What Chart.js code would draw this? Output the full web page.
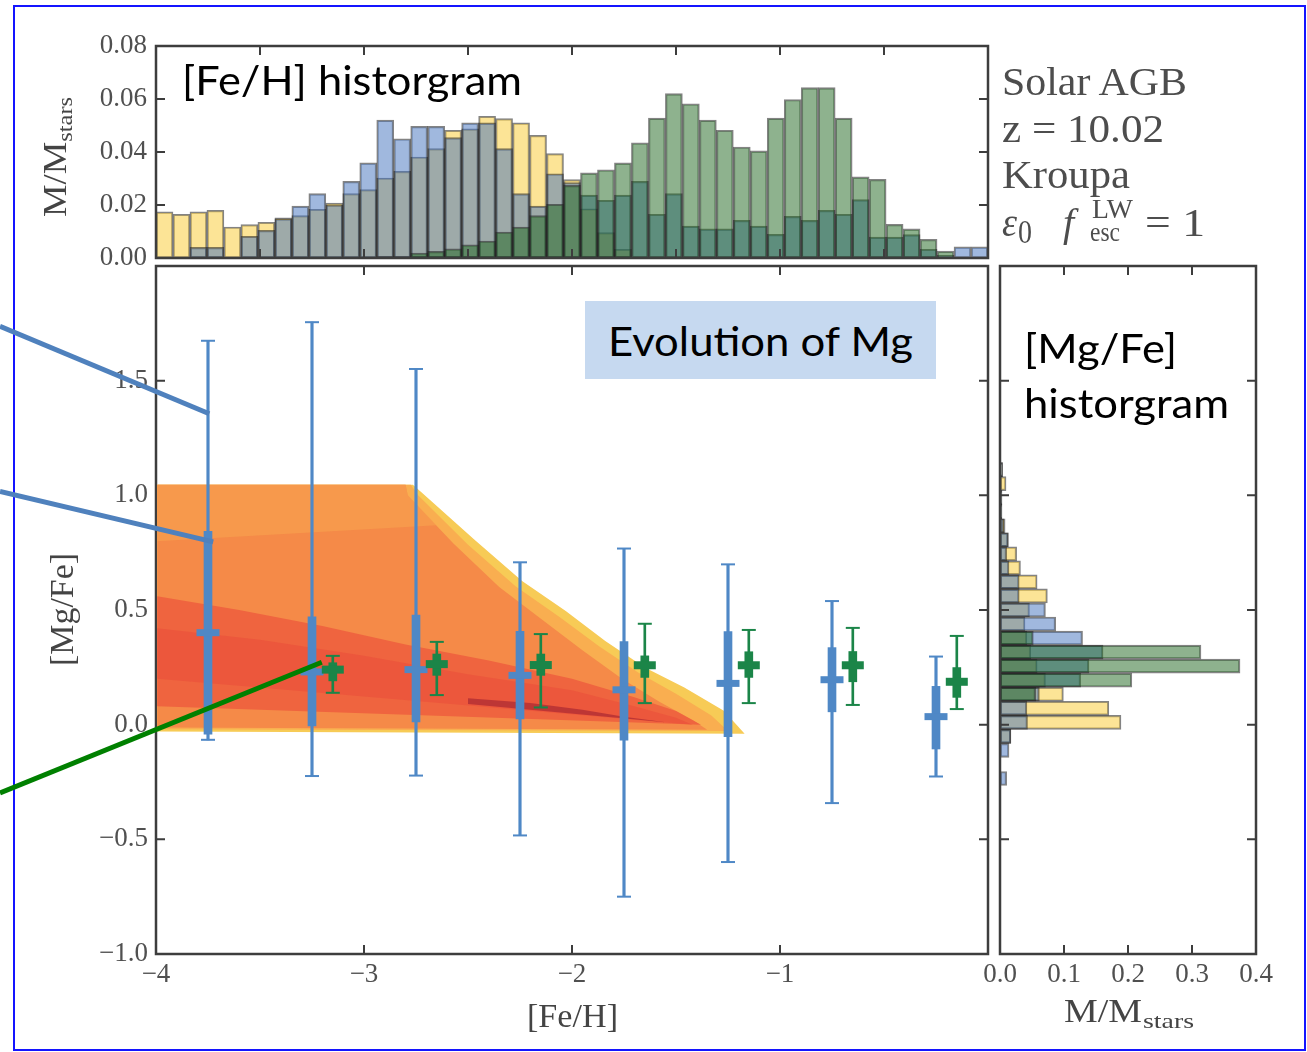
<!DOCTYPE html>
<html lang="en">
<head>
<meta charset="UTF-8">
<title>Evolution of Mg</title>
<script src="https://cdn.jsdelivr.net/npm/chart.js@4.4.1/dist/chart.umd.min.js"></script>
<style>
  html, body { margin: 0; padding: 0; background: #fff; }
  #wrap { position: relative; width: 1307px; height: 1052px; overflow: hidden; }
  #wrap canvas { position: absolute; left: 0; top: 0; }
  .frame { position: absolute; left: 13px; top: 5px; width: 1289px; height: 1042px; border: 2px solid #1414ff; }
  .mgbox { position: absolute; left: 585px; top: 301px; width: 351px; height: 78px; background: #c6d9f0; }
  .lbl { position: absolute; white-space: nowrap; line-height: 1; }
  .sans { font-family: Lato, 'Open Sans', sans-serif; font-size: 40px; color: #000; }
  .serif { font-family: 'Liberation Serif', 'DejaVu Serif', serif; font-size: 40px; color: #4d4d4d; }
  .ax { font-family: 'Liberation Serif', 'DejaVu Serif', serif; font-size: 33px; color: #444; }
  .sub { font-size: 22px; position: relative; top: 6px; }
</style>
</head>
<body>
<div id="wrap">
  <div class="frame"></div>
  <canvas id="cTop" width="1307" height="1052"></canvas>
  <canvas id="cMain" width="1307" height="1052"></canvas>
  <canvas id="cRight" width="1307" height="1052"></canvas>

  <div class="mgbox"></div>
  <div class="lbl sans" data-x="182" data-b="95" data-w="340">[Fe/H] historgram</div>
  <div class="lbl sans" data-x="608" data-b="356" data-w="305">Evolution of Mg</div>
  <div class="lbl sans" data-x="1024" data-b="363" data-w="153">[Mg/Fe]</div>
  <div class="lbl sans" data-x="1024" data-b="418" data-w="205">historgram</div>

  <div class="lbl serif" data-x="1002" data-b="95" data-w="185">Solar AGB</div>
  <div class="lbl serif" data-x="1002" data-b="142" data-w="162">z = 10.02</div>
  <div class="lbl serif" data-x="1002" data-b="188" data-w="128">Kroupa</div>
  <div class="lbl serif" data-x="1002" data-b="236" data-w="15"><i>ε</i></div>
  <div class="lbl serif" style="font-size:34px" data-x="1018" data-b="243" data-w="14">0</div>
  <div class="lbl serif" data-x="1063" data-b="236"><i>f</i></div>
  <div class="lbl serif" style="font-size:27px" data-x="1092" data-b="218" data-w="41">LW</div>
  <div class="lbl serif" style="font-size:27px" data-x="1090" data-b="241" data-w="30">esc</div>
  <div class="lbl serif" data-x="1145" data-b="236" data-w="60">= 1</div>

  <div class="lbl ax" data-x="527" data-b="1027" data-w="91">[Fe/H]</div>
  <div class="lbl ax" data-x="1064" data-b="1022" data-w="78">M/M</div>
  <div class="lbl ax" style="font-size:22px" data-x="1143" data-b="1028" data-w="51">stars</div>
  <div class="lbl ax" data-x="73" data-b="666" data-w="113" data-rot="1">[Mg/Fe]</div>
  <div class="lbl ax" data-x="66" data-b="217" data-w="120" data-rot="1">M/M<span class="sub">stars</span></div>
</div>

<script>
// histogram ranges, bin counts
const FEH_RANGE = [-4, 0];
const MGFE_RANGE = [-1, 2];
const NBINS = 49;

// [Fe/H] histogram (M/Mstars per bin)
const FEH_YELLOW = [0.0174, 0.0165, 0.0174, 0.018, 0.0117, 0.0126, 0.0135, 0.0152, 0.016, 0.0184,
  0.0207, 0.0243, 0.0258, 0.0302, 0.0327, 0.0381, 0.0413, 0.0482, 0.0487, 0.0535,
  0.0526, 0.051, 0.0463, 0.0394, 0.0296, 0.0186, 0.0096, 0.0033, null, null,
  null, null, null, null, null, null, null, null, null, null,
  null, null, null, null, null, null, null, null, null];
const FEH_BLUE = [null, null, 0.004, 0.004, null, 0.0082, 0.0104, 0.0148, 0.0196, 0.0243,
  0.020, 0.0289, 0.0359, 0.052, 0.045, 0.0497, 0.0497, 0.0454, 0.051, 0.051,
  0.0413, 0.0243, 0.0196, 0.0318, 0.0285, 0.0237, 0.0218, 0.0237, 0.0289, 0.0165,
  0.0243, 0.012, 0.011, 0.011, 0.0142, 0.012, 0.0089, 0.0157, 0.0142, 0.018,
  0.0165, 0.022, 0.0079, 0.0079, 0.0088, 0.0033, 0.001, 0.0042, 0.0042];
const FEH_GREEN = [null, null, null, null, null, null, null, null, null, null,
  null, null, null, 0.0005, 0.0005, 0.0019, 0.0025, 0.0035, 0.005, 0.0064,
  0.0098, 0.0117, 0.016, 0.0203, 0.0274, 0.0321, 0.0333, 0.0359, 0.0435, 0.0528,
  0.062, 0.0582, 0.052, 0.0482, 0.0419, 0.0404, 0.0528, 0.0598, 0.0643, 0.0643,
  0.0528, 0.0306, 0.0297, 0.0127, 0.011, 0.007, 0.0026, null, null];

// [Mg/Fe] histogram (M/Mstars per bin, bottom to top)
const MGFE_YELLOW = [null, null, null, null, null, null, null, null, null, null,
  null, null, null, null, null, 0.017, 0.189, 0.170, 0.099, 0.071,
  0.058, 0.048, 0.042, 0.039, 0.046, 0.074, 0.058, 0.032, 0.026, 0.013,
  0.008, 0.003, 0.003, 0.0094, 0.004, null, null, null, null, null,
  null, null, null, null, null, null, null, null, null];
const MGFE_BLUE = [null, null, null, null, null, null, null, null, null, null,
  null, null, 0.0104, null, 0.0141, 0.017, 0.043, 0.042, 0.0615, 0.126,
  0.139, 0.161, 0.129, 0.087, 0.071, 0.030, 0.030, 0.014, 0.0104, 0.013,
  0.006, 0.003, 0.003, 0.002, 0.004, null, null, null, null, null,
  null, null, null, null, null, null, null, null, null];
const MGFE_GREEN = [null, null, null, null, null, null, null, null, null, null,
  null, null, null, null, null, null, null, null, 0.0557, 0.206,
  0.375, 0.314, 0.052, null, null, null, null, null, null, null,
  null, null, null, null, null, null, null, null, null, null,
  null, null, null, null, null, null, null, null, null];

// binned [Mg/Fe] statistics, blue model
const BIN_X = [-3.75, -3.25, -2.75, -2.25, -1.75, -1.25, -0.75, -0.25];
const BLUE_MIN = [-0.066, -0.224, -0.222, -0.483, -0.75, -0.599, -0.342, -0.226];
const BLUE_MAX = [1.674, 1.755, 1.551, 0.708, 0.768, 0.699, 0.539, 0.297];
const BLUE_Q1 = [-0.041, -0.005, 0.012, 0.025, -0.068, -0.052, 0.056, -0.106];
const BLUE_Q3 = [0.843, 0.47, 0.478, 0.407, 0.362, 0.406, 0.336, 0.167];
const BLUE_MED = [0.401, 0.23, 0.24, 0.215, 0.152, 0.18, 0.196, 0.035];

// binned [Mg/Fe] statistics, green model
const GREEN_X = [-3.15, -2.65, -2.15, -1.65, -1.15, -0.65, -0.15];
const GREEN_MIN = [0.139, 0.129, 0.075, 0.094, 0.094, 0.086, 0.068];
const GREEN_MAX = [0.30, 0.361, 0.395, 0.44, 0.413, 0.422, 0.387];
const GREEN_Q1 = [0.191, 0.215, 0.215, 0.206, 0.206, 0.187, 0.119];
const GREEN_Q3 = [0.27, 0.308, 0.308, 0.30, 0.318, 0.319, 0.249];
const GREEN_MED = [0.24, 0.264, 0.26, 0.259, 0.259, 0.259, 0.187];

// density region of the star particles, outer to inner
const HEAT_EDGE = [[-3.994, -0.03], [-3.994, 1.046], [-2.765, 1.046], [-2.72, 1.01], [-2.47, 0.807], [-2.24, 0.626],
  [-2.03, 0.496], [-1.84, 0.365], [-1.65, 0.249], [-1.46, 0.162], [-1.27, 0.061], [-1.17, -0.04]];
const HEAT_LIGHT = [[-3.994, -0.02], [-3.994, 1.046], [-2.775, 1.046], [-2.74, 1.0], [-2.5, 0.785], [-2.27, 0.603],
  [-2.06, 0.47], [-1.87, 0.342], [-1.68, 0.226], [-1.5, 0.135], [-1.33, 0.04], [-1.25, -0.028]];
const HEAT_BODY = [[-3.994, -0.012], [-3.994, 1.046], [-2.8, 1.046], [-2.79, 1.0], [-2.57, 0.79], [-2.35, 0.6],
  [-2.14, 0.455], [-1.95, 0.325], [-1.76, 0.2], [-1.58, 0.1], [-1.42, 0.02], [-1.35, -0.022]];
const HEAT_GLOW = [[-3.994, 0.8], [-3.994, 1.046], [-2.8, 1.046], [-2.79, 1.0], [-2.65, 0.87]];
const HEAT_BAND = [[-3.994, 0.08], [-3.994, 0.56], [-3.6, 0.5], [-3.2, 0.43], [-2.8, 0.35], [-2.4, 0.28],
  [-2.0, 0.2], [-1.7, 0.12], [-1.5, 0.06], [-1.38, 0.0]];
const HEAT_CORE = [[-3.994, 0.2], [-3.994, 0.42], [-3.5, 0.37], [-3.0, 0.3], [-2.5, 0.22], [-2.0, 0.15],
  [-1.7, 0.08], [-1.5, 0.03], [-1.42, 0.0]];
const HEAT_STREAK = [[-2.5, 0.09], [-2.5, 0.115], [-2.2, 0.095], [-1.95, 0.065], [-1.75, 0.035], [-1.55, 0.01]];

// callout lines coming in from the slide
const CALLOUT_BLUE_1 = [[-4.75, 1.737], [-3.744, 1.356]];
const CALLOUT_BLUE_2 = [[-4.75, 1.017], [-3.725, 0.797]];
const CALLOUT_GREEN = [[-4.75, -0.298], [-3.203, 0.272]];

const YELLOW = 'rgba(249,201,45,0.5)';
const BLUE = 'rgba(65,113,189,0.5)';
const GREEN = 'rgba(29,101,29,0.5)';
const EDGE = 'rgba(30,30,30,0.55)';
const BAR_BLUE = '#4f88c6';
const BAR_GREEN = '#1b8548';

Chart.defaults.font.family = "'Liberation Serif', 'DejaVu Serif', serif";
Chart.defaults.font.size = 27;
Chart.defaults.color = '#505050';
Chart.defaults.animation = false;
Chart.defaults.plugins.legend.display = false;
Chart.defaults.plugins.tooltip.enabled = false;

function binCenters(range, n) {
  const w = (range[1] - range[0]) / n;
  return Array.from({length: n}, (_, i) => range[0] + (i + 0.5) * w);
}
const minus = s => String(s).replace('-', '\u2212');
const fixW = w => s => { s.width = w; s.paddingTop = 0; s.paddingBottom = 0; };
const fixH = h => s => { s.height = h; s.paddingLeft = 0; s.paddingRight = 0; };
const NO_GRID = { display: false, drawTicks: false };

// box with inward ticks on all four sides
const frameTicks = {
  id: 'frameTicks',
  draw(chart) {
    const {ctx, chartArea: a, scales: {x, y}} = chart;
    const L = 9;
    ctx.save();
    ctx.strokeStyle = '#3d3d3d';
    ctx.lineWidth = 2;
    ctx.beginPath();
    x.ticks.forEach(t => {
      const p = x.getPixelForValue(t.value);
      if (p - a.left < 2 || a.right - p < 2) return;
      ctx.moveTo(p, a.bottom); ctx.lineTo(p, a.bottom - L);
      ctx.moveTo(p, a.top); ctx.lineTo(p, a.top + L);
    });
    y.ticks.forEach(t => {
      const p = y.getPixelForValue(t.value);
      if (p - a.top < 2 || a.bottom - p < 2) return;
      ctx.moveTo(a.left, p); ctx.lineTo(a.left + L, p);
      ctx.moveTo(a.right, p); ctx.lineTo(a.right - L, p);
    });
    ctx.stroke();
    ctx.lineWidth = 2.5;
    ctx.strokeRect(a.left, a.top, a.right - a.left, a.bottom - a.top);
    ctx.restore();
  },
  beforeDatasetsDraw(chart, args, opts) { if (opts.behind) this.draw(chart); },
  afterDatasetsDraw(chart, args, opts) { if (!opts.behind) this.draw(chart); }
};

function histSet(vals, centers, color, order, horiz) {
  return {
    data: vals.map((v, i) => horiz ? {x: v, y: centers[i]} : {x: centers[i], y: v}),
    backgroundColor: color, borderColor: EDGE, borderWidth: 1.5, borderSkipped: false,
    barPercentage: 1, categoryPercentage: 1, grouped: false, order
  };
}

// ---- top: [Fe/H] histogram ----
const feC = binCenters(FEH_RANGE, NBINS);
new Chart(document.getElementById('cTop'), {
  type: 'bar',
  data: { datasets: [
    histSet(FEH_YELLOW, feC, YELLOW, 3),
    histSet(FEH_BLUE, feC, BLUE, 2),
    histSet(FEH_GREEN, feC, GREEN, 1)
  ]},
  options: {
    responsive: false, devicePixelRatio: 1,
    layout: { padding: { left: 86, top: 46, right: 319, bottom: 794 } },
    plugins: { frameTicks: { behind: false } },
    scales: {
      x: { type: 'linear', min: FEH_RANGE[0], max: FEH_RANGE[1], offset: false,
           grid: NO_GRID, border: { display: false },
           ticks: { display: false, stepSize: 0.5 }, afterFit: fixH(0) },
      y: { min: 0, max: 0.08, grid: NO_GRID, border: { display: false },
           ticks: { stepSize: 0.02, padding: 9, callback: v => v.toFixed(2) }, afterFit: fixW(70) }
    }
  },
  plugins: [frameTicks]
});

// ---- main: [Mg/Fe] vs [Fe/H] ----
function poly(pts, color, order) {
  return { type: 'line', data: pts.map(p => ({x: p[0], y: p[1]})), backgroundColor: color,
           borderColor: 'rgba(0,0,0,0)', borderWidth: 0, pointRadius: 0, fill: 'shape', tension: 0, order };
}
function callout(pts, color) {
  return { type: 'line', data: pts.map(p => ({x: p[0], y: p[1]})), borderColor: color,
           borderWidth: 5, pointRadius: 0, fill: false, clip: false, order: 0 };
}
function range(xs, lo, hi, color, thick, order) {
  return { type: 'bar', data: xs.map((x, i) => ({x, y: [lo[i], hi[i]]})), backgroundColor: color,
           barThickness: thick, grouped: false, order };
}
function marks(xs, vals, color, r, w, order) {
  return { type: 'scatter', data: xs.map((x, i) => ({x, y: vals[i]})), pointStyle: 'line',
           pointRadius: r, pointBorderColor: color, pointBorderWidth: w, borderColor: color, order };
}

new Chart(document.getElementById('cMain'), {
  type: 'bar',
  data: { datasets: [
    poly(HEAT_EDGE, '#f7cb56', 30),
    poly(HEAT_LIGHT, '#f9ae50', 29),
    poly(HEAT_BODY, '#f58a48', 28),
    poly(HEAT_GLOW, 'rgba(250,168,80,0.5)', 27),
    poly(HEAT_BAND, '#ef643f', 26),
    poly(HEAT_CORE, 'rgba(232,70,58,0.45)', 25),
    poly(HEAT_STREAK, 'rgba(170,40,50,0.7)', 24),
    range(BIN_X, BLUE_MIN, BLUE_MAX, BAR_BLUE, 2.5, 12),
    range(BIN_X, BLUE_Q1, BLUE_Q3, BAR_BLUE, 8, 11),
    marks(BIN_X, BLUE_MIN, BAR_BLUE, 7, 2, 10),
    marks(BIN_X, BLUE_MAX, BAR_BLUE, 7, 2, 10),
    marks(BIN_X, BLUE_MED, BAR_BLUE, 11.5, 7, 9),
    range(GREEN_X, GREEN_MIN, GREEN_MAX, BAR_GREEN, 2, 8),
    range(GREEN_X, GREEN_Q1, GREEN_Q3, BAR_GREEN, 8, 7),
    marks(GREEN_X, GREEN_MIN, BAR_GREEN, 7, 2, 6),
    marks(GREEN_X, GREEN_MAX, BAR_GREEN, 7, 2, 6),
    marks(GREEN_X, GREEN_MED, BAR_GREEN, 11, 8, 5),
    callout(CALLOUT_BLUE_1, '#4f81bd'),
    callout(CALLOUT_BLUE_2, '#4f81bd'),
    callout(CALLOUT_GREEN, '#008000')
  ]},
  options: {
    responsive: false, devicePixelRatio: 1,
    layout: { padding: { left: 86, top: 266, right: 319, bottom: 58 } },
    plugins: { frameTicks: { behind: true } },
    scales: {
      x: { type: 'linear', min: -4, max: 0, offset: false, grid: NO_GRID, border: { display: false },
           ticks: { stepSize: 1, padding: 5, callback: v => v === 0 ? '' : minus(v) }, afterFit: fixH(40) },
      y: { min: -1, max: 2, grid: NO_GRID, border: { display: false },
           ticks: { stepSize: 0.5, padding: 8, callback: v => v > 1.99 ? '' : minus(v.toFixed(1)) }, afterFit: fixW(70) }
    }
  },
  plugins: [frameTicks]
});

// ---- right: [Mg/Fe] histogram ----
const mgC = binCenters(MGFE_RANGE, NBINS);
new Chart(document.getElementById('cRight'), {
  type: 'bar',
  data: { datasets: [
    histSet(MGFE_YELLOW, mgC, YELLOW, 3, true),
    histSet(MGFE_BLUE, mgC, BLUE, 2, true),
    histSet(MGFE_GREEN, mgC, GREEN, 1, true)
  ]},
  options: {
    indexAxis: 'y',
    responsive: false, devicePixelRatio: 1,
    layout: { padding: { left: 1000, top: 266, right: 51, bottom: 58 } },
    plugins: { frameTicks: { behind: false } },
    scales: {
      x: { type: 'linear', min: 0, max: 0.4, grid: NO_GRID, border: { display: false },
           ticks: { stepSize: 0.1, padding: 5, callback: v => v.toFixed(1) }, afterFit: fixH(40) },
      y: { type: 'linear', min: MGFE_RANGE[0], max: MGFE_RANGE[1], offset: false,
           grid: NO_GRID, border: { display: false },
           ticks: { display: false, stepSize: 0.5 }, afterFit: fixW(0) }
    }
  },
  plugins: [frameTicks]
});

// put every text label on its baseline and stretch it to the measured width
function place(el) {
  const d = el.dataset;
  const m = document.createElement('span');
  m.style.cssText = 'display:inline-block;width:0;height:0;';
  el.appendChild(m);
  el.style.left = '0px';
  el.style.top = '0px';
  const r = el.getBoundingClientRect();
  const base = m.getBoundingClientRect().top - r.top;
  const s = d.w ? (+d.w / r.width) : 1;
  el.style.left = d.x + 'px';
  el.style.top = (+d.b - base) + 'px';
  el.style.transformOrigin = '0px ' + base + 'px';
  el.style.transform = (d.rot ? 'rotate(-90deg) ' : '') + 'scaleX(' + s + ')';
}
document.querySelectorAll('.lbl').forEach(place);
</script>
</body>
</html>
